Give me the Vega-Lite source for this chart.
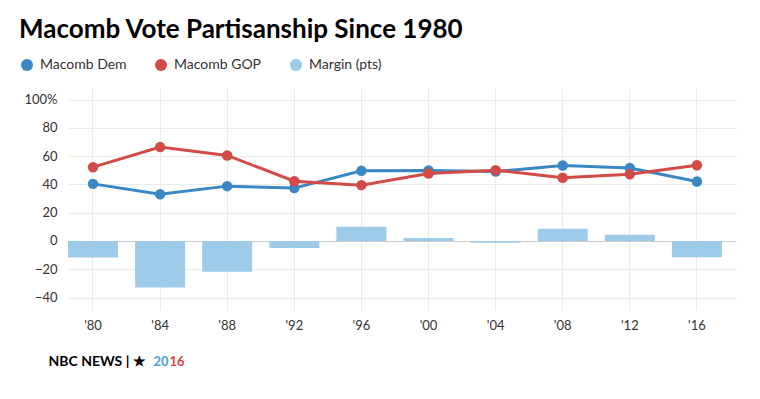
{
  "$schema": "https://vega.github.io/schema/vega-lite/v6.json",
  "width": 668,
  "height": 222,
  "autosize": {"type": "none"},
  "padding": {"left": 68, "top": 88, "right": 24, "bottom": 89},
  "background": "white",
  "title": {
    "text": "Macomb Vote Partisanship Since 1980",
    "anchor": "start",
    "frame": "group",
    "dx": -49,
    "offset": -6,
    "baseline": "alphabetic",
    "fontSize": 26,
    "fontWeight": "bold",
    "color": "#000000",
    "font": "Lato"
  },
  "config": {
    "font": "Lato",
    "view": {"stroke": null},
    "legend": {
      "orient": "none",
      "legendX": -48,
      "legendY": -30,
      "direction": "horizontal",
      "padding": 0,
      "symbolType": "circle",
      "symbolSize": 144,
      "symbolOpacity": 1,
      "symbolStrokeWidth": 0,
      "labelFontSize": 14,
      "labelColor": "#333333",
      "labelOffset": 6,
      "columnPadding": 27,
      "labelFont": "Lato"
    }
  },
  "datasets": {
    "votes": [
      {"year": "'80", "party": "Macomb Dem", "pct": 40.4},
      {"year": "'84", "party": "Macomb Dem", "pct": 33.1},
      {"year": "'88", "party": "Macomb Dem", "pct": 38.8},
      {"year": "'92", "party": "Macomb Dem", "pct": 37.4},
      {"year": "'96", "party": "Macomb Dem", "pct": 49.6},
      {"year": "'00", "party": "Macomb Dem", "pct": 49.9},
      {"year": "'04", "party": "Macomb Dem", "pct": 49.1},
      {"year": "'08", "party": "Macomb Dem", "pct": 53.4},
      {"year": "'12", "party": "Macomb Dem", "pct": 51.6},
      {"year": "'16", "party": "Macomb Dem", "pct": 42.1},
      {"year": "'80", "party": "Macomb GOP", "pct": 52.2},
      {"year": "'84", "party": "Macomb GOP", "pct": 66.4},
      {"year": "'88", "party": "Macomb GOP", "pct": 60.5},
      {"year": "'92", "party": "Macomb GOP", "pct": 42.3},
      {"year": "'96", "party": "Macomb GOP", "pct": 39.5},
      {"year": "'00", "party": "Macomb GOP", "pct": 47.7},
      {"year": "'04", "party": "Macomb GOP", "pct": 50.1},
      {"year": "'08", "party": "Macomb GOP", "pct": 44.7},
      {"year": "'12", "party": "Macomb GOP", "pct": 47.2},
      {"year": "'16", "party": "Macomb GOP", "pct": 53.6}
    ],
    "margins": [
      {"year": "'80", "margin": -11.7},
      {"year": "'84", "margin": -32.8},
      {"year": "'88", "margin": -21.7},
      {"year": "'92", "margin": -4.9},
      {"year": "'96", "margin": 10.1},
      {"year": "'00", "margin": 2.2},
      {"year": "'04", "margin": -1.2},
      {"year": "'08", "margin": 8.7},
      {"year": "'12", "margin": 4.4},
      {"year": "'16", "margin": -11.5}
    ]
  },
  "resolve": {"axis": {"y": "independent"}},
  "layer": [
    {
      "data": {"name": "margins"},
      "mark": {"type": "bar", "color": "#9fcbea", "opacity": 1},
      "encoding": {
        "x": {
          "field": "year",
          "type": "nominal",
          "sort": null,
          "scale": {"type": "band", "paddingInner": 0.255, "paddingOuter": 0.105, "align": 0},
          "axis": {
            "title": "NBC NEWS | ★",
            "titleX": -20,
            "titleY": 51,
            "titleAlign": "left",
            "titleBaseline": "middle",
            "titleFontSize": 14,
            "titleFontWeight": "bold",
            "titleColor": "#000000",
            "labelAngle": 0,
            "labelFontSize": 13,
            "labelColor": "#333333",
            "labelPadding": 9,
            "ticks": false,
            "domain": false,
            "grid": true,
            "gridColor": "#ebebeb",
            "bandPosition": 0.5
          }
        },
        "y": {
          "field": "margin",
          "type": "quantitative",
          "scale": {"domain": [-48.8, 108.2], "nice": false, "zero": false},
          "axis": {
            "orient": "left",
            "values": [-40, -20, 0, 20, 40, 60, 80, 100],
            "labelExpr": "datum.value == 100 ? '100%' : datum.label",
            "labelFontSize": 13,
            "labelColor": "#333333",
            "labelPadding": 11,
            "ticks": false,
            "domain": false,
            "grid": true,
            "gridColor": {"condition": {"test": "datum.value === 0", "value": "#cccccc"}, "value": "#ebebeb"},
            "title": "20",
            "titleAngle": 0,
            "titleX": 85,
            "titleY": 273,
            "titleAlign": "left",
            "titleBaseline": "middle",
            "titleFontSize": 13,
            "titleFontWeight": "bold",
            "titleColor": "#4a9fd8"
          }
        },
        "color": {
          "datum": "Margin (pts)",
          "type": "nominal",
          "scale": {
            "domain": ["Macomb Dem", "Macomb GOP", "Margin (pts)"],
            "range": ["#3b87c4", "#d24b46", "#9fcbea"]
          },
          "legend": {"title": null}
        }
      }
    },
    {
      "data": {"name": "votes"},
      "mark": {"type": "line", "strokeWidth": 3, "point": {"filled": true, "size": 110, "opacity": 1}},
      "encoding": {
        "x": {"field": "year", "type": "nominal", "sort": null},
        "y": {
          "field": "pct",
          "type": "quantitative",
          "axis": {
            "orient": "right",
            "labels": false,
            "ticks": false,
            "domain": false,
            "grid": false,
            "title": "16",
            "titleAngle": 0,
            "titleX": -567,
            "titleY": 273,
            "titleAlign": "left",
            "titleBaseline": "middle",
            "titleFontSize": 13,
            "titleFontWeight": "bold",
            "titleColor": "#e0433c"
          }
        },
        "color": {"field": "party", "type": "nominal", "legend": {"title": null}}
      }
    }
  ]
}
